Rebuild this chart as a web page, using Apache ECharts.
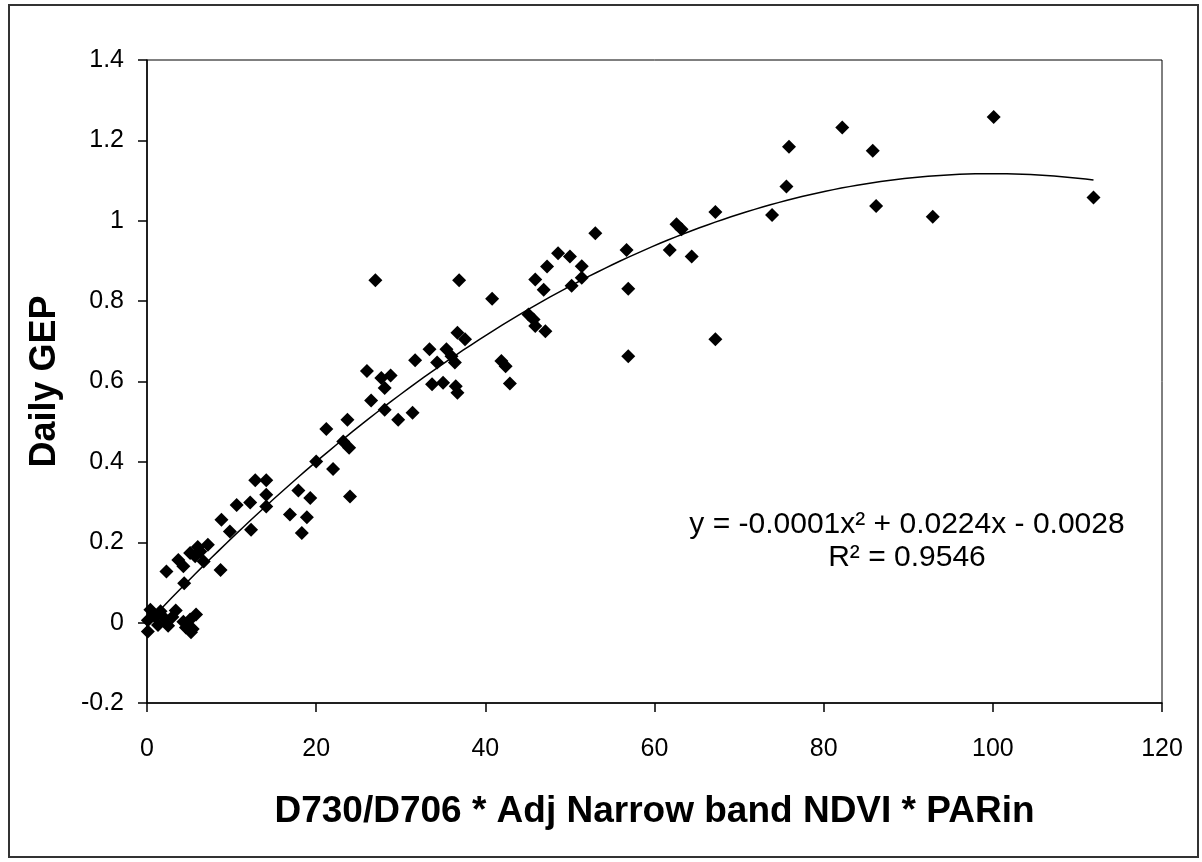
<!DOCTYPE html>
<html>
<head>
<meta charset="utf-8">
<title>Daily GEP vs D730/D706 * Adj Narrow band NDVI * PARin</title>
<script src="https://cdn.jsdelivr.net/npm/echarts@6/dist/echarts.min.js"></script>
<style>
  html, body { margin: 0; padding: 0; background: #fff; }
  #chart { width: 1202px; height: 862px; }
</style>
</head>
<body>
<div id="chart"></div>
<script>
// Observations: x = D730/D706 * Adj Narrow band NDVI * PARin
const obsX = [
  0.1, 0.1, 0.4, 0.9, 1.3, 1.6, 2.0, 2.5, 3.0, 3.4, 4.3, 4.6, 5.1, 5.4, 5.8, 5.2,
  2.3, 4.4, 3.7, 4.3, 5.1, 5.7, 6.3, 7.2, 6.0, 6.7, 8.7, 8.8, 9.8, 10.6, 12.2, 12.3,
  12.8, 14.1, 14.1, 14.1, 16.9, 17.9, 19.3, 18.3, 18.9, 20.0, 22.0, 21.2, 23.7, 23.2,
  23.9, 24.0,
  27.0, 36.9, 26.0, 27.7, 28.8, 28.1, 26.5, 28.1, 29.7, 31.4, 31.7, 33.4, 34.3, 33.7,
  35.0, 36.5, 36.7, 35.4, 36.0, 36.4, 36.7, 37.6, 40.8, 41.9, 42.4, 42.9, 45.1, 45.7,
  45.9, 47.1, 45.9, 46.9, 47.3, 48.6, 50.0, 50.2, 51.4, 51.4, 53.0, 56.7, 56.9, 56.9,
  61.8, 62.6, 63.2, 64.4, 67.2, 67.2, 73.9, 75.6, 75.9, 82.2, 85.8, 86.2, 92.9, 100.1,
  111.9
];
// Observations: daily GEP
const obsY = [
  -0.022, 0.006, 0.032, 0.016, -0.006, 0.028, 0.012, -0.008, 0.014, 0.030, 0.002, -0.012, 0.008, -0.016, 0.020, -0.024,
  0.127, 0.098, 0.156, 0.140, 0.173, 0.165, 0.177, 0.194, 0.188, 0.152, 0.131, 0.256, 0.227, 0.293, 0.299, 0.231,
  0.354, 0.354, 0.318, 0.289, 0.269, 0.329, 0.310, 0.223, 0.262, 0.401, 0.382, 0.482, 0.505, 0.451,
  0.435, 0.314,
  0.852, 0.852, 0.626, 0.609, 0.615, 0.584, 0.553, 0.530, 0.505, 0.522, 0.653, 0.680, 0.647, 0.593,
  0.597, 0.588, 0.572, 0.680, 0.663, 0.647, 0.721, 0.705, 0.806, 0.651, 0.638, 0.595, 0.767, 0.754,
  0.738, 0.725, 0.854, 0.828, 0.886, 0.919, 0.911, 0.838, 0.887, 0.858, 0.969, 0.927, 0.831, 0.663,
  0.927, 0.991, 0.979, 0.911, 1.022, 0.705, 1.014, 1.085, 1.184, 1.232, 1.174, 1.037, 1.010, 1.258,
  1.058
];

// Polynomial trendline coefficients (order 2): a*x^2 + b*x + c
const trendCoef = [-0.000112, 0.0224, -0.0028];
const trendLabel = ['y = -0.0001x\u00B2 + 0.0224x - 0.0028', 'R\u00B2 = 0.9546'];

// Axis ticks
const xTicks = [0, 20, 40, 60, 80, 100, 120];
const yTicks = [-0.2, 0, 0.2, 0.4, 0.6, 0.8, 1, 1.2, 1.4];

const points = obsX.map((x, i) => [x, obsY[i]]);

// Sample the fitted curve across the observed x-range
const xMin = Math.min(...obsX), xMax = Math.max(...obsX);
const trend = [];
const steps = 120;
for (let i = 0; i <= steps; i++) {
  const x = xMin + (xMax - xMin) * i / steps;
  trend.push([x, trendCoef[0] * x * x + trendCoef[1] * x + trendCoef[2]]);
}

const FONT = '"Liberation Sans", Arial, Helvetica, sans-serif';

const chart = echarts.init(document.getElementById('chart'), null, { renderer: 'canvas' });
chart.setOption({
  backgroundColor: '#ffffff',
  animation: false,
  grid: {
    left: 147, right: 40, top: 60, bottom: 159,
    show: true, borderColor: '#000', borderWidth: 1, backgroundColor: 'transparent'
  },
  xAxis: {
    type: 'value',
    min: xTicks[0], max: xTicks[xTicks.length - 1],
    interval: xTicks[1] - xTicks[0],
    name: 'D730/D706 * Adj Narrow band NDVI * PARin',
    nameLocation: 'middle',
    nameGap: 90,
    nameTextStyle: { fontFamily: FONT, fontWeight: 'bold', fontSize: 37, color: '#000' },
    axisLine: { onZero: false, lineStyle: { color: '#000', width: 1.5 } },
    axisTick: { show: true, inside: false, length: 9, lineStyle: { color: '#000', width: 1.5 } },
    axisLabel: { margin: 34, fontFamily: FONT, fontSize: 25, color: '#000' },
    splitLine: { show: false }
  },
  yAxis: {
    type: 'value',
    min: yTicks[0], max: yTicks[yTicks.length - 1],
    interval: yTicks[1] - yTicks[0],
    name: 'Daily GEP',
    nameLocation: 'middle',
    nameGap: 84,
    nameTextStyle: { fontFamily: FONT, fontWeight: 'bold', fontSize: 36, color: '#000' },
    axisLine: { onZero: false, lineStyle: { color: '#000', width: 1.5 } },
    axisTick: { show: true, inside: false, length: 9, lineStyle: { color: '#000', width: 1.5 } },
    axisLabel: { margin: 23, fontFamily: FONT, fontSize: 25, color: '#000' },
    splitLine: { show: false }
  },
  series: [
    {
      type: 'scatter',
      data: points,
      symbol: 'diamond',
      symbolSize: 14,
      itemStyle: { color: '#000', opacity: 1 },
      z: 3
    },
    {
      type: 'line',
      data: trend,
      showSymbol: false,
      smooth: false,
      lineStyle: { color: '#000', width: 1.5 },
      z: 4
    }
  ],
  graphic: [
    {
      type: 'rect',
      shape: { x: 9, y: 5, width: 1189, height: 852 },
      style: { fill: 'none', stroke: '#333', lineWidth: 2 },
      z: -1
    },
    {
      type: 'text',
      x: 907, y: 525,
      style: {
        text: trendLabel[0], font: '30px ' + FONT, fill: '#000',
        align: 'center', verticalAlign: 'middle'
      }
    },
    {
      type: 'text',
      x: 907, y: 558,
      style: {
        text: trendLabel[1], font: '30px ' + FONT, fill: '#000',
        align: 'center', verticalAlign: 'middle'
      }
    }
  ]
});
</script>
</body>
</html>
